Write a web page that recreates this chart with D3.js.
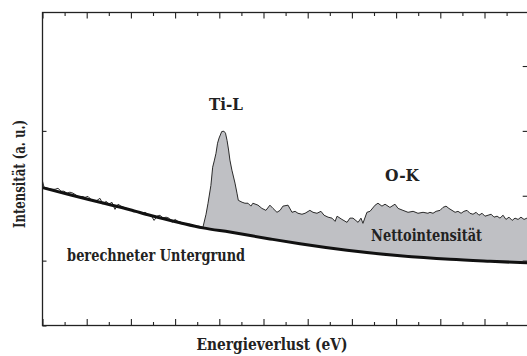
<!DOCTYPE html>
<html>
<head>
<meta charset="utf-8">
<script src="https://cdn.jsdelivr.net/npm/d3@7"></script>
<style>
  html, body { margin: 0; padding: 0; background: #fff; }
  svg { display: block; }
</style>
</head>
<body>
<div id="chart"></div>
<script>
// measured spectrum: energy loss (eV), intensity (a. u.)
var specE = [400.0,400.7,402.5,404.3,405.7,407.0,408.4,409.7,411.1,412.4,413.8,415.2,416.5,417.9,419.2,420.6,421.9,423.3,424.7,426.0,
  427.4,428.7,430.1,431.4,432.8,434.2,435.5,436.9,438.2,439.6,441.0,442.3,443.7,445.0,446.4,447.7,449.1,450.5,451.8,453.2,
  454.5,455.9,457.2,458.6,460.0,461.3,462.7,464.0,465.4,466.7,468.1,469.5,470.8,472.6,
  474.0,474.9,476.2,477.0,477.8,478.5,479.2,479.9,481.1,482.1,482.8,483.5,484.2,484.8,485.7,487.1,488.0,488.6,
  490.3,491.6,493.0,494.3,495.2,497.5,499.3,501.1,502.9,504.3,506.1,507.5,508.8,511.1,512.9,514.3,515.6,517.4,518.8,
  521.0,522.4,524.2,526.0,527.4,529.2,531.0,532.4,533.3,535.5,537.8,539.1,
  540.5,542.8,544.1,545.0,546.8,548.2,550.5,551.8,553.6,555.0,557.2,559.5,560.9,563.1,565.4,567.7,569.9,572.2,574.4,
  575.3,576.7,578.1,579.9,581.2,582.6,583.9,585.3,586.7,588.0,589.4,590.7,592.1,593.4,594.8,596.2,597.5,598.9,600.2,
  601.6,603.0,604.3,605.7,607.0,608.4,609.7,611.1,612.5,613.8,615.2,616.5,617.9,619.2,620.0];
var specI = [44.5,42.6,42.3,42.0,42.0,42.3,41.4,41.4,40.8,41.1,40.8,40.2,39.5,39.8,39.5,39.8,38.9,38.3,38.6,39.2,
  37.4,38.3,37.4,38.0,35.8,37.4,36.8,36.4,36.1,35.8,35.5,35.2,34.9,34.6,34.9,34.3,34.0,32.4,33.7,34.0,
  33.1,33.4,33.1,31.8,32.7,32.1,31.8,31.5,31.2,31.2,30.9,30.6,30.6,30.3,
  34.3,37.7,43.2,48.8,51.0,53.1,56.2,57.8,59.8,59.9,59.3,57.1,54.1,51.0,47.9,43.9,40.8,38.6,
  38.0,37.7,37.7,36.8,37.7,37.1,36.1,35.5,37.1,36.1,34.9,35.5,36.8,37.1,34.9,35.2,34.6,34.3,34.6,
  35.5,34.9,34.6,35.2,34.0,33.4,33.1,32.1,33.7,32.7,31.8,33.1,
  33.1,31.8,33.1,31.5,34.9,35.2,37.1,37.7,36.8,37.4,36.4,37.4,36.1,35.5,34.9,35.2,34.6,34.9,34.6,
  34.9,34.6,35.2,35.5,36.4,36.8,36.1,35.5,34.9,35.2,34.6,35.2,35.5,34.6,34.3,34.9,34.0,34.6,33.7,
  34.0,34.3,33.4,33.7,33.1,34.0,32.7,33.4,32.4,33.1,32.7,33.4,32.7,33.1,33.0];

// calculated background (Untergrund)
var bgE = [400.0,412.4,426.0,439.6,448.6,462.2,472.6,484.8,502.9,516.5,537.8,561.8,584.4,602.5,620.0];
var bgI = [42.5,40.3,38.0,35.7,34.0,31.7,30.1,28.8,26.7,25.2,23.2,21.5,20.4,19.8,19.3];

var edgeStart = 472.6; // net intensity shaded from here on

var xMajor = d3.range(400, 621, 20);
var xMinor = d3.range(410, 620, 20);
var yTicksLeft = [0, 20, 60];
var yTicksRight = [20, 40, 60, 80];

// w = width of the printed word in the figure
var labels = [
  {t: "Ti-L", e: 483.0, i: 66.5, w: 34},
  {t: "O-K", e: 562.7, i: 44.5, w: 34},
  {t: "Nettointensität", e: 573.8, i: 26.0, w: 111},
  {t: "berechneter Untergrund", e: 451.4, i: 20.0, w: 178}
];

var serif = "'DejaVu Serif', 'Liberation Serif', 'Times New Roman', serif";
var W = 527, H = 356;
var plot = {left: 42.5, top: 12.5, bottom: 325.5, right: 528.7};

var x = d3.scaleLinear().domain([400, 620]).range([plot.left, plot.right]);
var y = d3.scaleLinear().domain([0, 96.5]).range([plot.bottom, plot.top]);

var svg = d3.select("#chart").append("svg")
  .attr("width", W).attr("height", H);

var spec = specE.map(function(e, k){ return {e: e, i: specI[k]}; });
var bg = bgE.map(function(e, k){ return {e: e, i: bgI[k]}; });
var bgAt = d3.scaleLinear().domain(bgE).range(bgI);

// shaded net intensity
var net = spec.filter(function(d){ return d.e >= edgeStart; });
svg.append("path")
  .datum(net)
  .attr("d", d3.area()
    .x(function(d){ return x(d.e); })
    .y0(function(d){ return y(bgAt(d.e)); })
    .y1(function(d){ return y(d.i); }))
  .attr("fill", "#bfc0c4")
  .attr("stroke", "none");

// measured spectrum
svg.append("path")
  .datum(spec)
  .attr("d", d3.line().x(function(d){ return x(d.e); }).y(function(d){ return y(d.i); }))
  .attr("fill", "none")
  .attr("stroke", "#2a2a2a")
  .attr("stroke-width", 1)
  .attr("stroke-linejoin", "round");

// background fit
svg.append("path")
  .datum(bg)
  .attr("d", d3.line().curve(d3.curveMonotoneX).x(function(d){ return x(d.e); }).y(function(d){ return y(d.i); }))
  .attr("fill", "none")
  .attr("stroke", "#111")
  .attr("stroke-width", 3);

// axes, ticks pointing inward
function axisStyle(g){
  g.select(".domain").remove();
  g.selectAll(".tick line").attr("stroke", "#222").attr("stroke-width", 1.1);
  g.selectAll(".tick text").remove();
}
svg.append("g").attr("transform", "translate(0," + plot.top + ")")
  .call(d3.axisTop(x).tickValues(xMajor).tickSize(-6)).call(axisStyle);
svg.append("g").attr("transform", "translate(0," + plot.top + ")")
  .call(d3.axisTop(x).tickValues(xMinor).tickSize(-3.5)).call(axisStyle);
svg.append("g").attr("transform", "translate(0," + plot.bottom + ")")
  .call(d3.axisBottom(x).tickValues(xMajor).tickSize(-6.5)).call(axisStyle);
svg.append("g").attr("transform", "translate(0," + plot.bottom + ")")
  .call(d3.axisBottom(x).tickValues(xMinor).tickSize(-3.5)).call(axisStyle);
svg.append("g").attr("transform", "translate(" + plot.left + ",0)")
  .call(d3.axisLeft(y).tickValues(yTicksLeft).tickSize(-4)).call(axisStyle);
svg.append("g").attr("transform", "translate(" + plot.right + ",0)")
  .call(d3.axisRight(y).tickValues(yTicksRight).tickSize(-6)).call(axisStyle);

// frame
svg.append("rect")
  .attr("x", plot.left).attr("y", plot.top)
  .attr("width", plot.right - plot.left).attr("height", plot.bottom - plot.top)
  .attr("fill", "none").attr("stroke", "#222").attr("stroke-width", 1.3);

function serifText(sel, size, width){
  sel.attr("font-family", serif)
    .attr("font-weight", "bold")
    .attr("font-size", size)
    .attr("fill", "#222")
    .attr("text-anchor", "middle")
    .attr("textLength", width)
    .attr("lengthAdjust", "spacingAndGlyphs");
}

// annotations
svg.selectAll("text.ann")
  .data(labels)
  .enter().append("text")
  .attr("class", "ann")
  .attr("x", function(d){ return x(d.e); })
  .attr("y", function(d){ return y(d.i); })
  .text(function(d){ return d.t; })
  .each(function(d){ serifText(d3.select(this), 17, d.w); });

// axis titles
svg.append("text")
  .attr("x", 272).attr("y", 350)
  .text("Energieverlust (eV)")
  .call(serifText, 17.5, 151);

svg.append("text")
  .attr("transform", "translate(25,174) rotate(-90)")
  .text("Intensität (a. u.)")
  .call(serifText, 16, 108);
</script>
</body>
</html>
